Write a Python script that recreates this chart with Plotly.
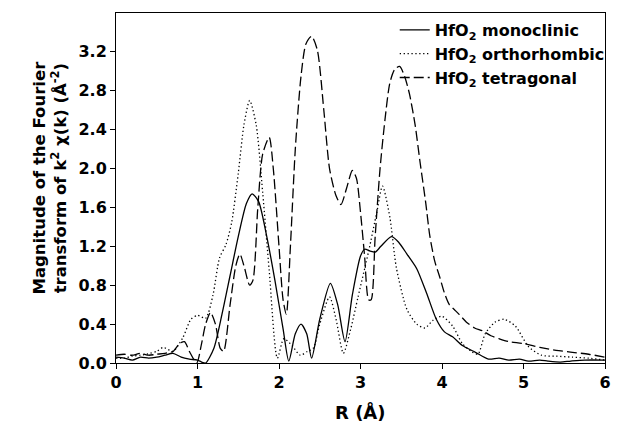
import plotly.graph_objects as go

# ---- data ----
mono_r = [0.0, 0.1, 0.2, 0.3, 0.4, 0.5, 0.6, 0.7, 0.8, 0.9, 1.0, 1.05, 1.1, 1.2, 1.3, 1.4,
          1.5, 1.6, 1.67, 1.75, 1.85, 1.95, 2.05, 2.12, 2.2, 2.27, 2.34, 2.4, 2.5, 2.63,
          2.72, 2.81, 2.9, 3.0, 3.05, 3.12, 3.18, 3.25, 3.38, 3.47, 3.57, 3.69, 3.81, 3.93,
          4.03, 4.13, 4.25, 4.41, 4.57, 4.7, 4.82, 4.95, 5.06, 5.2, 5.3, 5.45, 5.58, 5.75, 6.0]
mono_v = [0.06, 0.05, 0.03, 0.06, 0.05, 0.06, 0.08, 0.10, 0.06, 0.04, 0.03, 0.01, 0.0, 0.15,
          0.50, 0.90, 1.30, 1.64, 1.74, 1.66, 1.30, 0.85, 0.35, 0.02, 0.30, 0.40, 0.30, 0.05,
          0.45, 0.82, 0.60, 0.22, 0.70, 1.10, 1.17, 1.15, 1.14, 1.20, 1.30, 1.24, 1.12, 0.97,
          0.72, 0.45, 0.32, 0.27, 0.18, 0.11, 0.04, 0.05, 0.03, 0.04, 0.02, 0.03, 0.02, 0.01,
          0.02, 0.03, 0.03]

ortho_r = [0.0, 0.1, 0.2, 0.3, 0.42, 0.5, 0.58, 0.7, 0.82, 0.92, 1.0, 1.1, 1.19, 1.27, 1.35,
           1.42, 1.5, 1.57, 1.64, 1.72, 1.8, 1.88, 1.98, 2.06, 2.16, 2.26, 2.35, 2.42, 2.5,
           2.62, 2.7, 2.79, 2.88, 2.97, 3.1, 3.2, 3.27, 3.36, 3.44, 3.57, 3.69, 3.79, 3.89,
           4.0, 4.13, 4.25, 4.36, 4.44, 4.53, 4.65, 4.76, 4.9, 5.06, 5.22, 5.4, 5.6, 5.8, 6.0]
ortho_v = [0.05, 0.05, 0.07, 0.08, 0.10, 0.12, 0.16, 0.12, 0.26, 0.45, 0.49, 0.46, 0.70, 1.08,
           1.22, 1.45, 1.95, 2.45, 2.70, 2.45, 1.75, 0.95, 0.05, 0.25, 0.18, 0.08, 0.12, 0.15,
           0.40, 0.68, 0.45, 0.10, 0.35, 0.68, 1.15, 1.55, 1.82, 1.50, 0.98, 0.55, 0.40, 0.36,
           0.44, 0.48, 0.38, 0.20, 0.12, 0.09, 0.30, 0.42, 0.45, 0.38, 0.17, 0.08, 0.07, 0.06,
           0.05, 0.03]

tetra_r = [0.0, 0.1, 0.2, 0.3, 0.4, 0.5, 0.6, 0.7, 0.78, 0.84, 0.9, 0.99, 1.05, 1.1, 1.16,
           1.22, 1.28, 1.32, 1.4, 1.47, 1.52, 1.57, 1.64, 1.68, 1.74, 1.8, 1.88, 1.93, 2.0,
           2.05, 2.09, 2.14, 2.2, 2.27, 2.33, 2.4, 2.47, 2.55, 2.62, 2.7, 2.76, 2.83, 2.9,
           2.95, 3.0, 3.05, 3.1, 3.13, 3.18, 3.24, 3.3, 3.36, 3.42, 3.48, 3.54, 3.6, 3.67,
           3.73, 3.8, 3.85, 3.91, 3.97, 4.03, 4.09, 4.15, 4.21, 4.3, 4.4, 4.5, 4.6, 4.7,
           4.82, 5.0, 5.2, 5.4, 5.6, 5.8, 6.0]
tetra_v = [0.08, 0.09, 0.08, 0.10, 0.08, 0.09, 0.10, 0.12, 0.20, 0.22, 0.12, 0.0, 0.20, 0.40,
           0.52, 0.40, 0.15, 0.12, 0.60, 1.00, 1.12, 1.00, 0.80, 0.85, 1.60, 2.15, 2.32, 2.00,
           1.20, 0.65, 0.50, 1.20, 2.20, 2.95, 3.28, 3.36, 3.22, 2.60, 2.00, 1.72, 1.63, 1.80,
           1.98, 1.90, 1.55, 1.10, 0.65, 0.65, 1.30, 2.00, 2.50, 2.88, 3.02, 3.05, 2.95, 2.77,
           2.45, 2.07, 1.65, 1.31, 1.05, 0.89, 0.72, 0.60, 0.55, 0.50, 0.42, 0.36, 0.33, 0.28,
           0.25, 0.22, 0.20, 0.16, 0.13, 0.11, 0.09, 0.06]

names = ["HfO<sub>2</sub> monoclinic", "HfO<sub>2</sub> orthorhombic", "HfO<sub>2</sub> tetragonal"]
x_ticks = [0, 1, 2, 3, 4, 5, 6]
y_ticks = [0.0, 0.4, 0.8, 1.2, 1.6, 2.0, 2.4, 2.8, 3.2]

FONT = "DejaVu Sans, Arial, Helvetica, sans-serif"

fig = go.Figure()
fig.add_trace(go.Scatter(x=mono_r, y=mono_v, mode="lines", name=names[0],
                         line=dict(color="black", width=1.3, shape="spline", smoothing=0.7)))
fig.add_trace(go.Scatter(x=ortho_r, y=ortho_v, mode="lines", name=names[1],
                         line=dict(color="black", width=1.3, dash="1.3px,2.6px",
                                   shape="spline", smoothing=0.7)))
fig.add_trace(go.Scatter(x=tetra_r, y=tetra_v, mode="lines", name=names[2],
                         line=dict(color="black", width=1.3, dash="10px,4px",
                                   shape="spline", smoothing=0.7)))

fig.update_layout(
    width=617, height=425,
    margin=dict(l=116, r=6, t=13, b=62),
    paper_bgcolor="white", plot_bgcolor="white",
    font=dict(family=FONT, color="black", size=16, weight="bold"),
    showlegend=True,
    legend=dict(x=0.57, y=1.0, xanchor="left", yanchor="top",
                bgcolor="rgba(0,0,0,0)", borderwidth=0,
                font=dict(family=FONT, size=16, color="black", weight="bold"),
                tracegroupgap=0),
    xaxis=dict(range=[0, 6], tickmode="array", tickvals=x_ticks,
               ticktext=[str(v) for v in x_ticks],
               showline=True, linecolor="black", linewidth=1, mirror=True,
               ticks="outside", ticklen=5, tickwidth=1, tickcolor="black",
               showgrid=False, zeroline=False, ticklabeloverflow="allow",
               tickfont=dict(family=FONT, size=16, color="black", weight="bold")),
    yaxis=dict(range=[0, 3.6], tickmode="array", tickvals=y_ticks,
               ticktext=[f"{v:.1f}" for v in y_ticks],
               showline=True, linecolor="black", linewidth=1, mirror=True,
               ticks="outside", ticklen=5, tickwidth=1, tickcolor="black",
               showgrid=False, zeroline=False,
               tickfont=dict(family=FONT, size=16, color="black", weight="bold")),
    annotations=[
        dict(text="R (Å)", xref="paper", yref="paper", x=0.5, y=-0.14,
             xanchor="center", yanchor="middle", showarrow=False,
             font=dict(family=FONT, size=18, color="black", weight="bold")),
        dict(text="Magnitude of the Fourier<br>transform of k<sup>2</sup> χ(k) (Å<sup>-2</sup>)",
             xref="paper", yref="paper", x=-0.137, y=0.53, textangle=-90,
             xanchor="center", yanchor="middle", showarrow=False,
             font=dict(family=FONT, size=16.5, color="black", weight="bold")),
    ],
)

fig.write_html("out.html", config={"displayModeBar": False},
               post_script="document.body.style.margin='0px';")
